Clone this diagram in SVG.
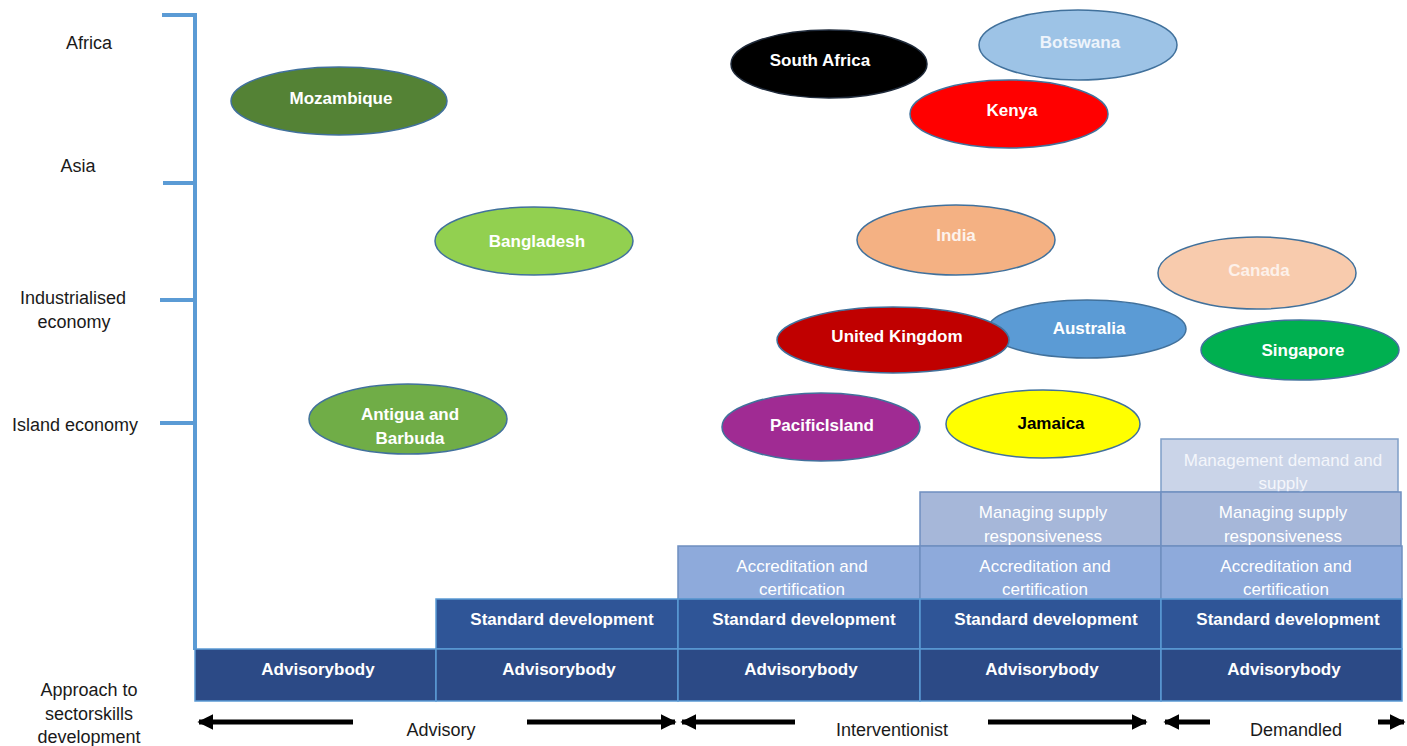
<svg xmlns="http://www.w3.org/2000/svg" width="1407" height="746" viewBox="0 0 1407 746">
<defs>
<style>
.lbl{font-family:"Liberation Sans",Arial,sans-serif;font-size:18px;fill:#1a1a1a;text-anchor:middle}
.wt{font-family:"Liberation Sans",Arial,sans-serif;font-size:17px;font-weight:bold;fill:#ffffff;text-anchor:middle}
.ell{stroke:#41719c;stroke-width:1.5}
.box{stroke:#5b9bd5;stroke-width:1.5}
.axis{stroke:#5b9bd5;stroke-width:4;fill:none}
.arr{stroke:#000;stroke-width:5;fill:none}
</style>
<marker id="ah" viewBox="0 0 10 10" refX="9" refY="5" markerWidth="3.2" markerHeight="3.2" orient="auto" markerUnits="strokeWidth">
<path d="M0,0 L10,5 L0,10 Z" fill="#000"/>
</marker>
</defs>
<rect width="1407" height="746" fill="#ffffff"/>

<g id="axis">
<line class="axis" x1="195" y1="13" x2="195" y2="650"/>
<line class="axis" x1="162" y1="15" x2="197" y2="15"/>
<line class="axis" x1="163" y1="183" x2="193" y2="183"/>
<line class="axis" x1="160" y1="300" x2="195" y2="300"/>
<line class="axis" x1="160" y1="423" x2="195" y2="423"/>
</g>

<g id="axis-labels">
<text class="lbl" x="89" y="49">Africa</text>
<text class="lbl" x="78" y="172">Asia</text>
<text class="lbl" x="73" y="304">Industrialised</text>
<text class="lbl" x="74" y="328">economy</text>
<text class="lbl" x="75" y="431">Island economy</text>
<text class="lbl" x="89" y="696">Approach to</text>
<text class="lbl" x="89" y="720">sectorskills</text>
<text class="lbl" x="89" y="743">development</text>
</g>

<g id="bars">
<g id="management-demand">
<rect x="1161" y="439" width="237" height="53" fill="#cad4e8" stroke="#7f9fc7" stroke-width="1.5"/>
<text class="wt" x="1283" y="466" style="font-weight:normal;fill:#f4f6fb">Management demand and</text>
<text class="wt" x="1283" y="489" style="font-weight:normal;fill:#f4f6fb">supply</text>
</g>
<g id="managing-supply-1">
<rect class="box" x="920" y="492" width="241" height="54" fill="#a6b7d9" style="stroke:#6f8fc0"/>
<text class="wt" x="1043" y="518" style="font-weight:normal">Managing supply</text>
<text class="wt" x="1043" y="542" style="font-weight:normal">responsiveness</text>
</g>
<g id="managing-supply-2">
<rect class="box" x="1161" y="492" width="240" height="54" fill="#a6b7d9" style="stroke:#6f8fc0"/>
<text class="wt" x="1283" y="518" style="font-weight:normal">Managing supply</text>
<text class="wt" x="1283" y="542" style="font-weight:normal">responsiveness</text>
</g>
<g id="accreditation-1">
<rect class="box" x="678" y="546" width="242" height="53" fill="#8eaadb" style="stroke:#6f8fc0"/>
<text class="wt" x="802" y="572" style="font-weight:normal">Accreditation and</text>
<text class="wt" x="802" y="595" style="font-weight:normal">certification</text>
</g>
<g id="accreditation-2">
<rect class="box" x="920" y="546" width="241" height="53" fill="#8eaadb" style="stroke:#6f8fc0"/>
<text class="wt" x="1045" y="572" style="font-weight:normal">Accreditation and</text>
<text class="wt" x="1045" y="595" style="font-weight:normal">certification</text>
</g>
<g id="accreditation-3">
<rect class="box" x="1161" y="546" width="241" height="53" fill="#8eaadb" style="stroke:#6f8fc0"/>
<text class="wt" x="1286" y="572" style="font-weight:normal">Accreditation and</text>
<text class="wt" x="1286" y="595" style="font-weight:normal">certification</text>
</g>
<g id="standard-1">
<rect class="box" x="436" y="599" width="242" height="50" fill="#2f5597"/>
<text class="wt" x="562" y="625">Standard development</text>
</g>
<g id="standard-2">
<rect class="box" x="678" y="599" width="242" height="50" fill="#2f5597"/>
<text class="wt" x="804" y="625">Standard development</text>
</g>
<g id="standard-3">
<rect class="box" x="920" y="599" width="241" height="50" fill="#2f5597"/>
<text class="wt" x="1046" y="625">Standard development</text>
</g>
<g id="standard-4">
<rect class="box" x="1161" y="599" width="241" height="50" fill="#2f5597"/>
<text class="wt" x="1288" y="625">Standard development</text>
</g>
<g id="advisory-1">
<rect class="box" x="195" y="649" width="241" height="52" fill="#2c4a86"/>
<text class="wt" x="318" y="675">Advisorybody</text>
</g>
<g id="advisory-2">
<rect class="box" x="436" y="649" width="242" height="52" fill="#2c4a86"/>
<text class="wt" x="559" y="675">Advisorybody</text>
</g>
<g id="advisory-3">
<rect class="box" x="678" y="649" width="242" height="52" fill="#2c4a86"/>
<text class="wt" x="801" y="675">Advisorybody</text>
</g>
<g id="advisory-4">
<rect class="box" x="920" y="649" width="241" height="52" fill="#2c4a86"/>
<text class="wt" x="1042" y="675">Advisorybody</text>
</g>
<g id="advisory-5">
<rect class="box" x="1161" y="649" width="241" height="52" fill="#2c4a86"/>
<text class="wt" x="1284" y="675">Advisorybody</text>
</g>
</g>

<g id="mozambique">
<ellipse class="ell" cx="339" cy="101" rx="108" ry="34" fill="#548235"/>
<text class="wt" x="341" y="104">Mozambique</text>
</g>
<g id="bangladesh">
<ellipse class="ell" cx="534" cy="241" rx="99" ry="34" fill="#92d050"/>
<text class="wt" x="537" y="247">Bangladesh</text>
</g>
<g id="antigua">
<ellipse class="ell" cx="408" cy="419" rx="99" ry="35" fill="#70ad47"/>
<text class="wt" x="410" y="420">Antigua and</text>
<text class="wt" x="410" y="444">Barbuda</text>
</g>
<g id="south-africa">
<ellipse cx="829" cy="64" rx="98" ry="34" fill="#000000" stroke="#1f2a3a" stroke-width="1.5"/>
<text class="wt" x="820" y="66">South Africa</text>
</g>
<g id="botswana">
<ellipse class="ell" cx="1078" cy="45" rx="99" ry="35" fill="#9dc3e6"/>
<text class="wt" x="1080" y="48" style="fill:#eef4fb">Botswana</text>
</g>
<g id="kenya">
<ellipse class="ell" cx="1009" cy="114" rx="99" ry="34" fill="#ff0000"/>
<text class="wt" x="1012" y="116">Kenya</text>
</g>
<g id="india">
<ellipse class="ell" cx="956" cy="240" rx="99" ry="35" fill="#f4b183"/>
<text class="wt" x="956" y="241" style="fill:#fdf3ec">India</text>
</g>
<g id="canada">
<ellipse class="ell" cx="1257" cy="273" rx="99" ry="36" fill="#f8cbad"/>
<text class="wt" x="1259" y="276" style="fill:#fdf1ea">Canada</text>
</g>
<g id="australia">
<ellipse class="ell" cx="1087" cy="329" rx="99" ry="29" fill="#5b9bd5"/>
<text class="wt" x="1089" y="334">Australia</text>
</g>
<g id="united-kingdom">
<ellipse class="ell" cx="893" cy="340" rx="116" ry="33" fill="#c00000"/>
<text class="wt" x="897" y="342">United Kingdom</text>
</g>
<g id="singapore">
<ellipse class="ell" cx="1300" cy="350" rx="99" ry="30" fill="#00b050"/>
<text class="wt" x="1303" y="356">Singapore</text>
</g>
<g id="pacific-island">
<ellipse class="ell" cx="821" cy="427" rx="99" ry="34" fill="#a02b93"/>
<text class="wt" x="822" y="431">PacificIsland</text>
</g>
<g id="jamaica">
<ellipse class="ell" cx="1043" cy="424" rx="97" ry="34" fill="#ffff00"/>
<text class="wt" x="1051" y="429" style="fill:#000000">Jamaica</text>
</g>

<g id="connectors">
<line class="arr" x1="353" y1="722" x2="199" y2="722" marker-end="url(#ah)"/>
<line class="arr" x1="527" y1="722" x2="675" y2="722" marker-end="url(#ah)"/>
<line class="arr" x1="795" y1="722" x2="682" y2="722" marker-end="url(#ah)"/>
<line class="arr" x1="988" y1="722" x2="1146" y2="722" marker-end="url(#ah)"/>
<line class="arr" x1="1210" y1="722" x2="1165" y2="722" marker-end="url(#ah)"/>
<line class="arr" x1="1378" y1="722" x2="1404" y2="722" marker-end="url(#ah)"/>
</g>

<g id="approach-labels">
<text class="lbl" x="441" y="736">Advisory</text>
<text class="lbl" x="892" y="736">Interventionist</text>
<text class="lbl" x="1296" y="736">Demandled</text>
</g>
</svg>
